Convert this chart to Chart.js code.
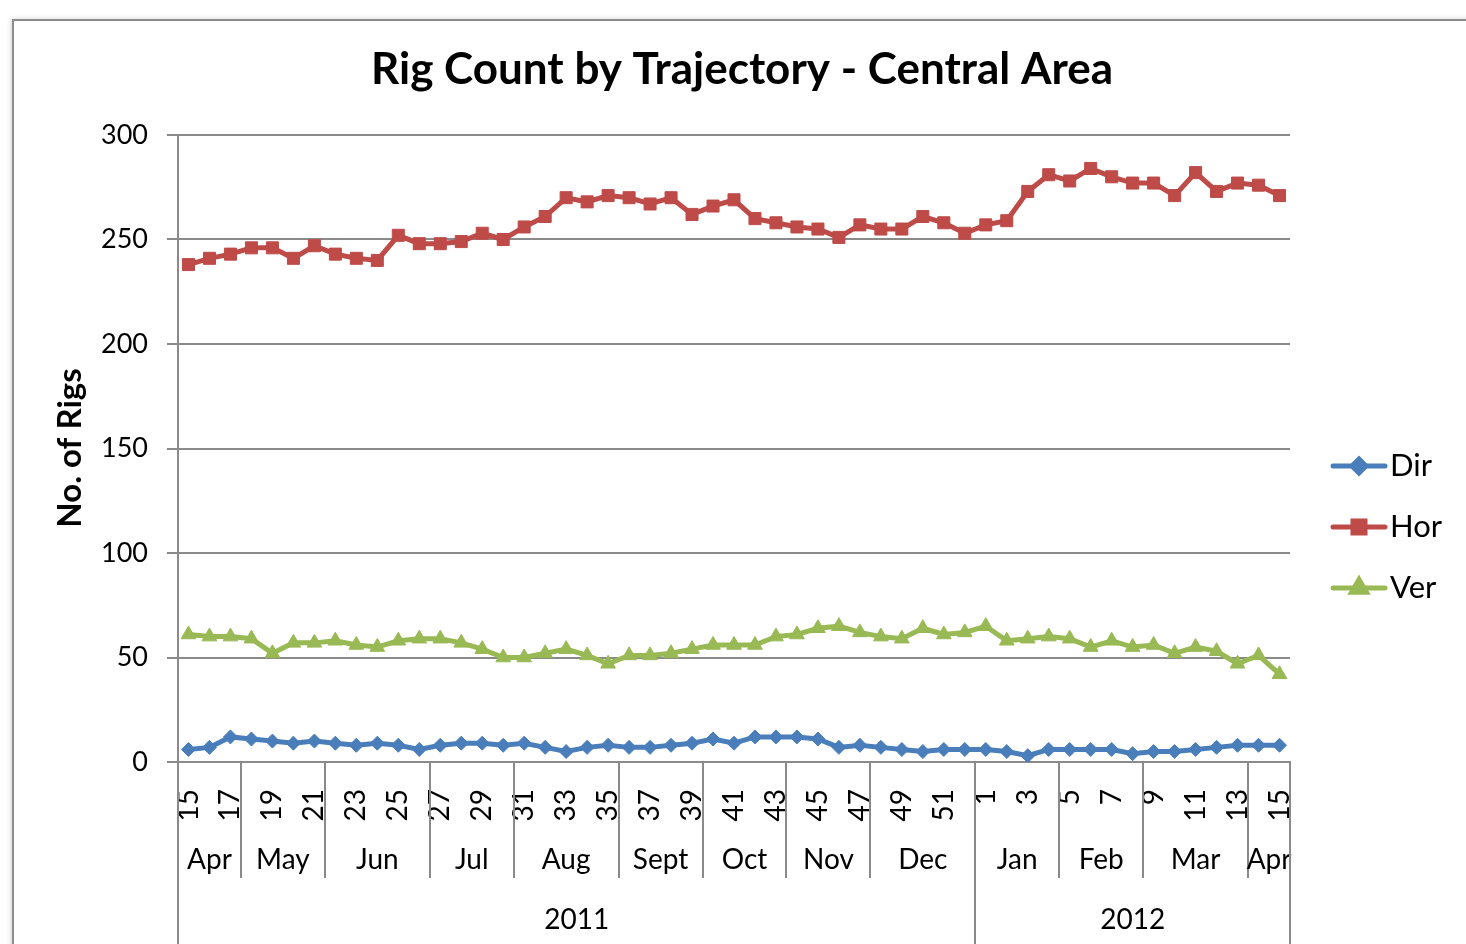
<!DOCTYPE html>
<html><head><meta charset="utf-8">
<script src="https://cdn.jsdelivr.net/npm/chart.js@4.4.1/dist/chart.umd.min.js"></script>
<style>
html,body{margin:0;padding:0;background:#fff;overflow:hidden;}
#frame{position:absolute;left:12px;top:19px;width:1500px;height:1000px;border:2px solid #8c8c8c;box-shadow:-2px -1px 4px rgba(0,0,0,0.12);background:#fff;}
#wrap{position:absolute;left:0;top:0;width:1466px;height:944px;}
</style></head><body>
<div id="frame"></div>
<div id="wrap"><canvas id="c" width="1466" height="944"></canvas></div>
<script>
const chartTitle = 'Rig Count by Trajectory - Central Area';
const yAxisTitle = 'No. of Rigs';
const weekLabels = ['15','16','17','18','19','20','21','22','23','24','25','26','27','28','29','30','31','32','33','34','35','36','37','38','39','40','41','42','43','44','45','46','47','48','49','50','51','52',
                    '1','2','3','4','5','6','7','8','9','10','11','12','13','14','15'];
const months = ['Apr','May','Jun','Jul','Aug','Sept','Oct','Nov','Dec','Jan','Feb','Mar','Apr'];
const monthWeekCounts = [3,4,5,4,5,4,4,4,5,4,4,5,2];
const years = ['2011','2012'];
const yearWeekCounts = [38,15];
const yTicks = [0,50,100,150,200,250,300];

const dirValues = [6,7,12,11,10,9,10,9,8,9,8,6,8,9,9,8,9,7,
                   5,7,8,7,7,8,9,11,9,12,12,12,11,7,8,7,6,
                   5,6,6,6,5,3,6,6,6,6,4,5,5,6,7,8,8,8];
const horValues = [238,241,243,246,246,241,247,243,241,240,252,248,248,249,253,250,256,261,
                   270,268,271,270,267,270,262,266,269,260,258,256,255,251,257,255,255,
                   261,258,253,257,259,273,281,278,284,280,277,277,271,282,273,277,276,271];
const verValues = [61,60,60,59,52,57,57,58,56,55,58,59,59,57,54,50,50,52,
                   54,51,47,51,51,52,54,56,56,56,60,61,64,65,62,60,59,
                   64,61,62,65,58,59,60,59,55,58,55,56,52,55,53,47,51,42];

const FONT = 'Lato, "Open Sans", sans-serif';
const GRID = '#8a8a8a';
const COLORS = {Dir:'#4a7ebb', Hor:'#be4b48', Ver:'#98b954'};

function series(label, data, style, radius){
  return {label, data, borderColor:COLORS[label], backgroundColor:COLORS[label],
    borderWidth:5, pointStyle:style, pointRadius:radius, pointHoverRadius:radius,
    pointBackgroundColor:COLORS[label], pointBorderColor:COLORS[label], pointBorderWidth:1,
    tension:0, fill:false};
}

const decor = {
  id:'decor',
  afterDraw(chart){
    const {ctx, chartArea:a, scales:{x}} = chart;
    ctx.save();
    ctx.fillStyle='#000';
    ctx.textAlign='center'; ctx.textBaseline='middle';
    ctx.font='bold 44px '+FONT;
    ctx.fillText(chartTitle, 742, 70);
    ctx.save();
    ctx.translate(70, 448); ctx.rotate(-Math.PI/2);
    ctx.font='bold 33px '+FONT;
    ctx.fillText(yAxisTitle, 0, 0);
    ctx.restore();

    const step = x.getPixelForValue(1) - x.getPixelForValue(0);
    const edge = k => x.getPixelForValue(k) - step/2;
    ctx.strokeStyle=GRID; ctx.lineWidth=2;
    ctx.font='28px '+FONT;
    let k=0;
    months.forEach((m,i)=>{
      const s=edge(k); k+=monthWeekCounts[i]; const e=edge(k);
      ctx.beginPath(); ctx.moveTo(Math.round(s), a.bottom); ctx.lineTo(Math.round(s), 878); ctx.stroke();
      ctx.fillText(m, (s+e)/2, 860);
    });
    k=0;
    years.forEach((yv,i)=>{
      const s=edge(k); k+=yearWeekCounts[i]; const e=edge(k);
      ctx.beginPath(); ctx.moveTo(Math.round(s), a.bottom); ctx.lineTo(Math.round(s), 944); ctx.stroke();
      ctx.beginPath(); ctx.moveTo(Math.round(e), a.bottom); ctx.lineTo(Math.round(e), 944); ctx.stroke();
      ctx.fillText(yv, (s+e)/2, 920);
    });

    // legend
    const ly=[466,527,588];
    chart.data.datasets.forEach((ds,i)=>{
      ctx.strokeStyle=ds.borderColor; ctx.lineWidth=5; ctx.lineCap='round';
      ctx.beginPath(); ctx.moveTo(1333, ly[i]); ctx.lineTo(1385, ly[i]); ctx.stroke();
      Chart.helpers.drawPoint(ctx, {pointStyle:ds.pointStyle, radius:ds.pointRadius, borderWidth:1, rotation:0}, 1359, ly[i]);
      ctx.fillStyle=ds.borderColor; ctx.fill();
      ctx.fillStyle='#000'; ctx.textAlign='left'; ctx.font='31px '+FONT;
      ctx.fillText(ds.label, 1390, ly[i]);
    });
    ctx.restore();
  }
};

new Chart(document.getElementById('c'), {
  type:'line',
  data:{labels:weekLabels, datasets:[
    series('Dir', dirValues, 'rectRot', 7),
    series('Hor', horValues, 'rect', 8.5),
    series('Ver', verValues, 'triangle', 8.5)
  ]},
  options:{
    responsive:false, animation:false, devicePixelRatio:1,
    layout:{padding:{top:135, right:176, left:0, bottom:0}},
    plugins:{legend:{display:false}, title:{display:false}, tooltip:{enabled:false}},
    scales:{
      x:{
        type:'category', offset:true,
        afterFit(s){ s.height = 182; },
        grid:{display:false, offset:true},
        border:{display:true, color:GRID, width:2},
        ticks:{autoSkip:false, minRotation:90, maxRotation:90, padding:19, color:'#000',
          font:{family:FONT, size:28},
          callback:(v,i)=> i%2===0 ? weekLabels[i] : ''}
      },
      y:{
        min:0, max:300,
        afterFit(s){ s.width = 178; },
        afterBuildTicks(s){ s.ticks = yTicks.map(v=>({value:v})); },
        grid:{color:GRID, lineWidth:2, tickLength:11, drawTicks:true},
        border:{display:true, color:GRID, width:2},
        ticks:{padding:19, color:'#000', font:{family:FONT, size:27}}
      }
    }
  },
  plugins:[decor]
});
</script></body></html>
